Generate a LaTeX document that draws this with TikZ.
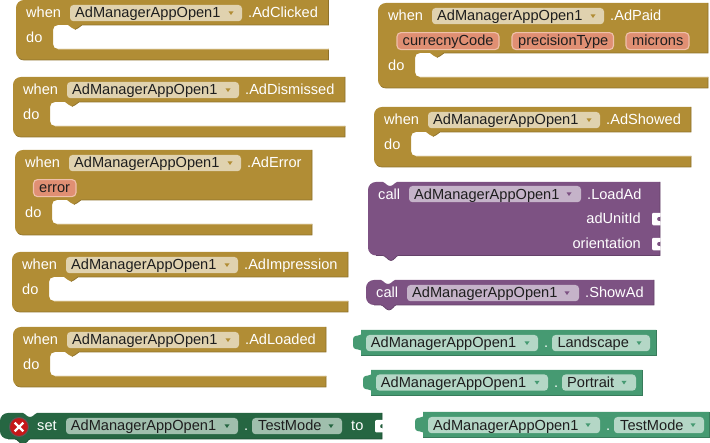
\documentclass[tikz,border=0pt]{standalone}
\usepackage{fontspec}
\setmainfont{Liberation Sans}
\definecolor{evfill}{HTML}{B18D35}
\definecolor{evdark}{HTML}{8E712A}
\definecolor{evlight}{HTML}{C8AB68}
\definecolor{evpill}{HTML}{E0D2AF}
\definecolor{parfill}{HTML}{E08F73}
\definecolor{parline}{HTML}{EFC0AB}
\definecolor{callfill}{HTML}{7D5283}
\definecolor{calldark}{HTML}{644269}
\definecolor{callpill}{HTML}{C5B3C9}
\definecolor{valfill}{HTML}{469A72}
\definecolor{valdark}{HTML}{387B5B}
\definecolor{valpill}{HTML}{B4D7C6}
\definecolor{setfill}{HTML}{266642}
\definecolor{setdark}{HTML}{1D4F33}
\definecolor{setpill}{HTML}{A0BFAD}
\definecolor{inktext}{HTML}{1E1E1E}
\tikzset{
  lbl/.style={inner sep=0pt,anchor=base west,text=white,font=\fontsize{14.6}{16}\selectfont},
  lblr/.style={lbl,anchor=base east},
  ink/.style={lbl,text=inktext},
}
\newcommand\pillfield[9]{%
  \fill[#9,rounded corners=3.5pt] (#2,#4) rectangle (#3,#4+16.2);
  \node[ink] (#1) at (#6,#5) {#7};
  \fill[#8] (\arx-2.5,#4+6.4) -- (\arx+2.5,#4+6.4) -- (\arx,#4+10) -- cycle;
}
\newcommand\arrowtip[3]{\def\arx{#1}\colorlet{arcol}{#2}\colorlet{pillcol}{#3}}
\newcommand\whenblk[6]{% id,x,y,w,r,event
 \begin{scope}[shift={(#2,#3)}]
  \fill[evfill] (#4,0) -- (8,0) .. controls (3.5,0) and (0,3.5) .. (0,8) -- (0,#5+27)
    .. controls (0,#5+31.5) and (3.5,#5+35) .. (8,#5+35) -- (#4,#5+35) -- (#4,#5+24)
    -- (42,#5+24) .. controls (39,#5+24) and (37,#5+22) .. (37,#5+19) -- (37,#5+5)
    .. controls (37,#5+2) and (39,#5) .. (42,#5) -- (52,#5)
    .. controls (55,#5+1) and (56,#5+4.5) .. (59,#5+4.5)
    .. controls (62,#5+4.5) and (63,#5+1) .. (66,#5) -- (#4,#5) -- cycle;
  \draw[evdark,line width=.7pt] (#4,0) -- (#4,#5) -- (66,#5)
    .. controls (63,#5+1) and (62,#5+4.5) .. (59,#5+4.5);
  \draw[evdark,line width=.7pt] (3,#5+33.2) .. controls (4.5,#5+34.4) and (6,#5+35) .. (8,#5+35) -- (#4,#5+35) -- (#4,#5+24);
  \draw[evlight,line width=.6pt] (42,#5+24) -- (#4,#5+24);
  \node[lbl] (#1-when) at (10,18) {when};
  \node[lbl] (#1-do) at (10,#5+18) {do};
  \arrowtip{215}{evfill}{evpill}
  \pillfield{#1-comp}{54}{226}{5}{18}{59}{AdManagerAppOpen1}{arcol}{pillcol}
  \node[lbl] (#1-ev) at (232,18) {#6};
 \end{scope}}
\newcommand\param[5]{%
  \fill[parfill,draw=parline,line width=1.1pt,rounded corners=4pt] (#2,29.6) rectangle (#3,46.6);
  \node[ink] (#1) at (#4,42.7) {#5};}
\def\nx{0}
\newcommand\stackshape[6]{% x,y,w,h,fill,dark
  \begin{scope}[shift={(#1,#2)}]
  \fill[#5] (8,0) -- (15+\nx,0) .. controls (17+\nx,0.5) and (19+\nx,4) .. (22+\nx,4) .. controls (25+\nx,4) and (27+\nx,0.5) .. (29+\nx,0)
    -- (#3,0) -- (#3,#4) -- (30,#4) .. controls (28,#4+.5) and (26,#4+5) .. (23,#4+5)
    .. controls (20,#4+5) and (18,#4+.5) .. (15,#4) -- (8,#4)
    .. controls (3.5,#4) and (0,#4-3.5) .. (0,#4-8) -- (0,8) .. controls (0,3.5) and (3.5,0) .. (8,0) -- cycle;
  \draw[#6,line width=.7pt] (#3,0) -- (#3,#4) -- (30,#4) .. controls (28,#4+.5) and (26,#4+5) .. (23,#4+5)
    .. controls (20,#4+5) and (18,#4+.5) .. (15,#4) -- (8,#4);
  \end{scope}}
\newcommand\socketcut[2]{%
  \fill[white] (#1+1.5,#2) -- (#1+8.6,#2) -- (#1+8.6,#2+3.8) .. controls (#1+6,#2+3.6) and (#1+5,#2+4.8) .. (#1+5,#2+6.2)
    .. controls (#1+5,#2+7.6) and (#1+6,#2+8.8) .. (#1+8.6,#2+8.6) -- (#1+8.6,#2+12.5) -- (#1+1.5,#2+12.5)
    .. controls (#1+.5,#2+12.5) and (#1,#2+11.5) .. (#1,#2+10.5) -- (#1,#2+2) .. controls (#1,#2+1) and (#1+.5,#2) .. (#1+1.5,#2) -- cycle;}
\newcommand\valshape[4]{%
  \begin{scope}[shift={(#1,#2)}]
  \fill[valfill] (0,0) -- (#3,0) -- (#3,#4) -- (0,#4) -- (0,20.5)
    .. controls (-3,18.5) and (-8,20.5) .. (-8,15.5) -- (-8,9.5) .. controls (-8,4.5) and (-3,6.5) .. (0,4.5) -- cycle;
  \draw[valdark,line width=.7pt] (#3,0) -- (#3,#4) -- (0,#4);
  \end{scope}}
\begin{document}
\begin{tikzpicture}[x=1pt,y=-1pt]
\useasboundingbox (0,0) rectangle (710,443);
\whenblk{clicked}{16}{0}{312.5}{25}{.AdClicked}
\whenblk{dismissed}{13}{77}{332}{25}{.AdDismissed}
\whenblk{adError}{15}{150}{297}{50}{.AdError}
\begin{scope}[shift={(15,150)}]\param{errpar}{18.5}{61}{24}{error}\end{scope}
\whenblk{impr}{12}{252}{336}{25}{.AdImpression}
\whenblk{loaded}{13}{327}{313}{25}{.AdLoaded}
\whenblk{paid}{378}{3}{330}{50}{.AdPaid}
\begin{scope}[shift={(378,3)}]
 \param{cur}{19}{121}{24.5}{currecnyCode}
 \param{prec}{134}{235.5}{140}{precisionType}
 \param{mic}{248}{311}{254}{microns}
\end{scope}
\whenblk{showed}{374}{107}{317}{25}{.AdShowed}
\stackshape{368}{182}{292}{73.5}{callfill}{calldark}
\node[lbl] (loadcall) at (378,199.3) {call};
\arrowtip{569}{callfill}{callpill}
\pillfield{loadcomp}{409}{581}{186}{199.3}{414}{AdManagerAppOpen1}{arcol}{pillcol}
\node[lbl] (loadad) at (587,199.3) {.LoadAd};
\node[lblr] (adunit) at (641,224) {adUnitId};
\node[lblr] (orient) at (641,249) {orientation};
\socketcut{652}{212.8}
\socketcut{652}{237.8}
\stackshape{366}{280}{288}{25}{callfill}{calldark}
\node[lbl] (showcall) at (376,298) {call};
\arrowtip{567}{callfill}{callpill}
\pillfield{showcomp}{407}{579}{285}{298}{412}{AdManagerAppOpen1}{arcol}{pillcol}
\node[lbl] (showad) at (585,298) {.ShowAd};
\valshape{361}{330}{295}{25}
\arrowtip{527}{valfill}{valpill}
\pillfield{landcomp}{366}{538}{335}{348}{370.7}{AdManagerAppOpen1}{arcol}{pillcol}
\node[lbl] (landdot) at (544,348) {.};
\arrowtip{639}{valfill}{valpill}
\pillfield{landprop}{552}{650}{335}{348}{557.3}{Landscape}{arcol}{pillcol}
\valshape{371}{370}{271}{25}
\arrowtip{537}{valfill}{valpill}
\pillfield{portcomp}{376}{548}{374.5}{387.5}{380.7}{AdManagerAppOpen1}{arcol}{pillcol}
\node[lbl] (portdot) at (554,387.5) {.};
\arrowtip{624}{valfill}{valpill}
\pillfield{portprop}{562}{636}{374.5}{387.5}{567}{Portrait}{arcol}{pillcol}
\valshape{423}{412}{286}{25}
\arrowtip{588}{valfill}{valpill}
\pillfield{testcomp}{428}{600}{417}{430.7}{433}{AdManagerAppOpen1}{arcol}{pillcol}
\node[lbl] (testdot) at (606,430.7) {.};
\arrowtip{693}{valfill}{valpill}
\pillfield{testprop}{614}{704}{417}{430.7}{620}{TestMode}{arcol}{pillcol}
\def\nx{8}
\stackshape{0}{413}{382}{26}{setfill}{setdark}
\node[lbl] (setlbl) at (37,431) {set};
\arrowtip{227}{setfill}{setpill}
\pillfield{setcomp}{66}{238}{418}{431}{70.7}{AdManagerAppOpen1}{arcol}{pillcol}
\node[lbl] (setdot) at (244,431) {.};
\arrowtip{331}{setfill}{setpill}
\pillfield{setprop}{252}{342}{418}{431}{258}{TestMode}{arcol}{pillcol}
\node[lbl] (setto) at (351,431) {to};
\socketcut{375}{420}
\fill[red!75!black!90,draw=black!65,line width=1pt] (19,427) circle (9.5);
\draw[white,line width=2.2pt] (14.7,422.7) -- (23.3,431.3) (23.3,422.7) -- (14.7,431.3);
\end{tikzpicture}
\end{document}
